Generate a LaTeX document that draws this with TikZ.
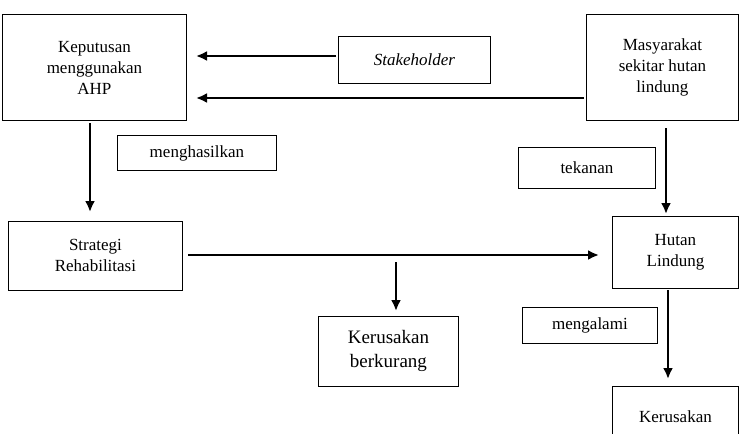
\documentclass[tikz,border=0pt]{standalone}
\usepackage{fontspec}
\setmainfont{Liberation Serif}
\usetikzlibrary{arrows.meta}
\begin{document}
\begin{tikzpicture}[x=1pt,y=-1pt,
  box/.style={draw,line width=0.9pt,align=center,font=\fontsize{17}{21}\selectfont},
  arr/.style={-{Latex[length=11pt,width=10pt]},line width=2.2pt}]
\useasboundingbox (0,0) rectangle (740,434);
\fill[white] (0,0) rectangle (740,434);
\node[box,minimum width=184pt,minimum height=106pt,anchor=north west] (kep) at (2,14) {Keputusan\\menggunakan\\AHP};
\node[box,minimum width=152pt,minimum height=47pt,anchor=north west] (stk) at (338,36) {\textit{Stakeholder}};
\node[box,minimum width=152pt,minimum height=106pt,anchor=north west] (mas) at (586,14) {Masyarakat\\sekitar hutan\\lindung};
\node[box,minimum width=159pt,minimum height=35pt,anchor=north west] (mgh) at (117,135) {menghasilkan};
\node[box,minimum width=137pt,minimum height=41pt,anchor=north west] (tek) at (518,147) {tekanan};
\node[box,minimum width=174pt,minimum height=69pt,anchor=north west] (str) at (8,221) {Strategi\\Rehabilitasi};
\node[box,minimum width=126pt,minimum height=72pt,anchor=north west] (hut) at (612,216) {Hutan\\Lindung};
\node[box,minimum width=140pt,minimum height=70pt,anchor=north west,font=\fontsize{19}{24}\selectfont] (kb) at (318,316) {Kerusakan\\berkurang};
\node[box,minimum width=135pt,minimum height=36pt,anchor=north west] (mgl) at (522,307) {mengalami};
\node[box,minimum width=126pt,minimum height=60pt,anchor=north west] (ker) at (612,386) {Kerusakan};
\coordinate (a1) at (336,56); \coordinate (a2) at (196,56);
\draw[arr] (a1) -- (a2);
\coordinate (b1) at (584,98); \coordinate (b2) at (196,98);
\draw[arr] (b1) -- (b2);
\coordinate (c1) at (90,123); \coordinate (c2) at (90,212);
\draw[arr] (c1) -- (c2);
\coordinate (d1) at (666,128); \coordinate (d2) at (666,214);
\draw[arr] (d1) -- (d2);
\coordinate (e1) at (188,255); \coordinate (e2) at (599,255);
\draw[arr] (e1) -- (e2);
\coordinate (f1) at (396,262); \coordinate (f2) at (396,311);
\draw[arr] (f1) -- (f2);
\coordinate (g1) at (668,290); \coordinate (g2) at (668,379);
\draw[arr] (g1) -- (g2);
\end{tikzpicture}
\end{document}
